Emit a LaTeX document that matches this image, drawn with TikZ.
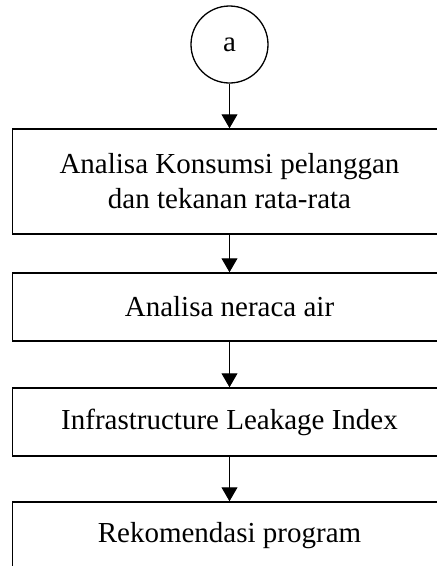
\documentclass[tikz,border=0pt]{standalone}
\usepackage{fontspec}
\setmainfont{Liberation Serif}
\usepackage{xcolor}
\usepackage{tikz}
\usetikzlibrary{positioning,arrows.meta}

\begin{document}
\begin{tikzpicture}[x=1pt, y=-1pt,
  font=\fontsize{29}{35}\selectfont,
  tahap/.style={draw, line width=1.5pt, minimum width=434pt, inner sep=0pt, align=center},
  panah/.style={line width=1pt, -{Triangle[length=14pt,width=16pt]}}]
\clip (0,0) rectangle (437,566);
\useasboundingbox (0,0) rectangle (437,566);

% connector from the previous page
\node[circle, draw, line width=1.3pt, minimum size=77pt, inner sep=0pt] (a) at (229.5,44.5) {a};

% steps
\node[tahap, minimum height=105pt] (konsumsi) at (229.5,181.5) {Analisa Konsumsi pelanggan\\dan tekanan rata-rata};
\node[tahap, minimum height=68pt] (neraca) at (229.5,307) {Analisa neraca air};
\node[tahap, minimum height=68pt] (ili) at (229.5,422) {Infrastructure Leakage Index};
\node[tahap, minimum height=68pt] (rekom) at (229.5,536) {Rekomendasi program};

\draw[panah] (a) -- (konsumsi);
\draw[panah] (konsumsi) -- (neraca);
\draw[panah] (neraca) -- (ili);
\draw[panah] (ili) -- (rekom);
\end{tikzpicture}
\end{document}
